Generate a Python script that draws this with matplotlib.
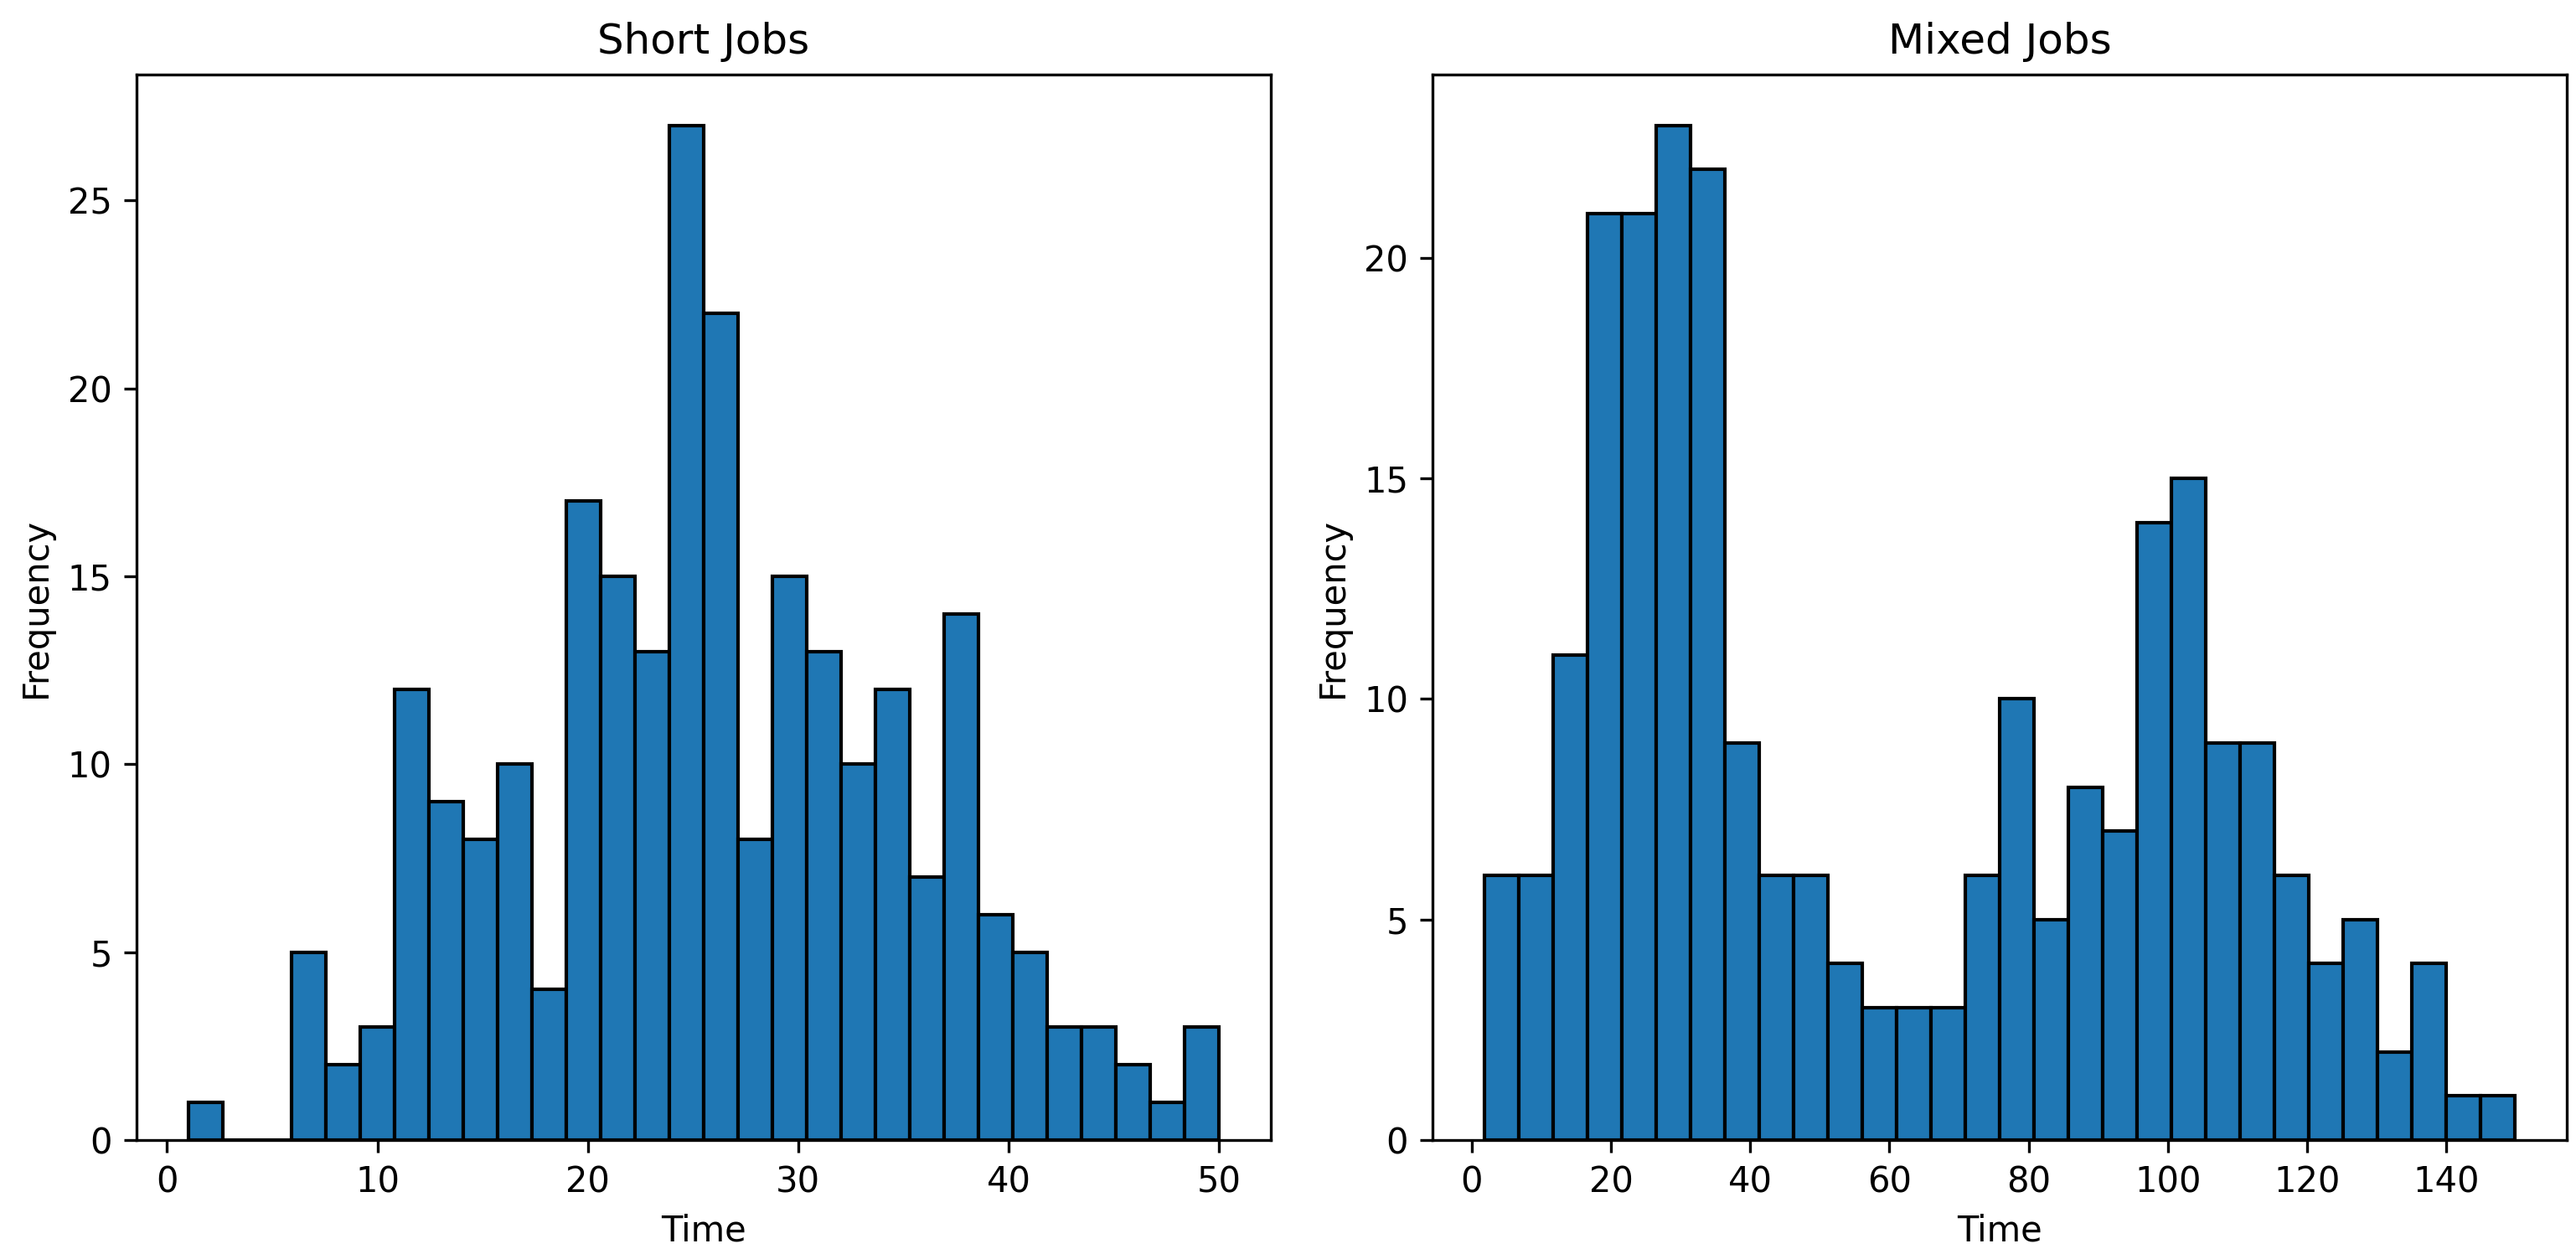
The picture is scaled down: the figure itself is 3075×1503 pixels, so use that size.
import numpy as np
import matplotlib
matplotlib.use('Agg')
import matplotlib.pyplot as plt

# bin counts (30 bins each)
short_counts = [1, 0, 0, 5, 2, 3, 12, 9, 8, 10, 4, 17, 15, 13, 27,
                22, 8, 15, 13, 10, 12, 7, 14, 6, 5, 3, 3, 2, 1, 3]
short_range = (1, 50)

mixed_counts = [6, 6, 11, 21, 21, 23, 22, 9, 6, 6, 4, 3, 3, 3, 6,
                10, 5, 8, 7, 14, 15, 9, 9, 6, 4, 5, 2, 4, 1, 1]
mixed_range = (1.8, 149.9)

titles = ['Short Jobs', 'Mixed Jobs']

fig, axes = plt.subplots(1, 2, figsize=(10.253, 5.01), dpi=300)
fig.subplots_adjust(left=0.053, right=0.9961, bottom=0.0945, top=0.9408, wspace=0.143)

for ax, counts, rng, title in zip(axes, [short_counts, mixed_counts],
                                  [short_range, mixed_range], titles):
    edges = np.linspace(rng[0], rng[1], len(counts) + 1)
    ax.bar(edges[:-1], counts, width=np.diff(edges), align='edge',
           color='#1f77b4', edgecolor='black', linewidth=1.0)
    ax.set_title(title, fontsize=12)
    ax.set_xlabel('Time')
    ax.set_ylabel('Frequency')

fig.savefig('out.png', dpi=300)
